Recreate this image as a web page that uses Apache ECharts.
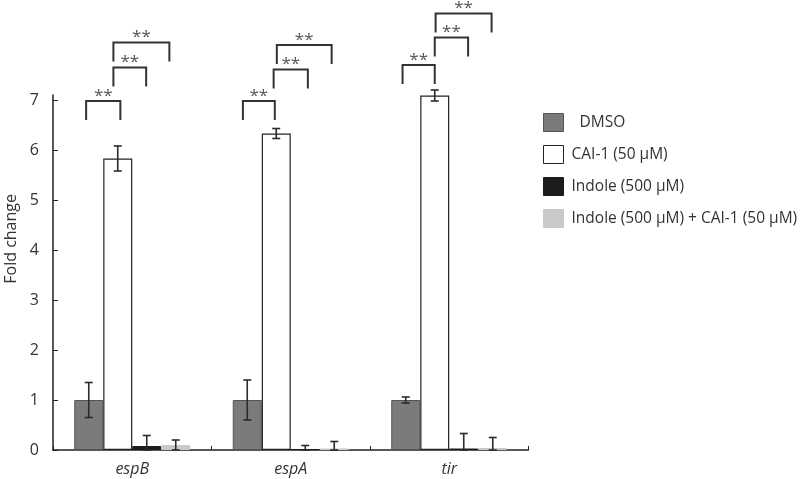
<!DOCTYPE html>
<html>
<head>
<meta charset="utf-8">
<script src="https://cdn.jsdelivr.net/npm/echarts@6/dist/echarts.min.js"></script>
<style>html,body{margin:0;padding:0;background:#fff;}#c{width:800px;height:479px;}</style>
</head>
<body>
<div id="c"></div>
<script>
const categories = ['espB', 'espA', 'tir'];
const seriesNames = ['DMSO', 'CAI-1 (50 µM)', 'Indole (500 µM)', 'Indole (500 µM) + CAI-1 (50 µM)'];
const dmso = [1.0, 1.0, 1.0];
const dmsoErr = [0.35, 0.4, 0.06];
const cai = [5.83, 6.33, 7.09];
const caiErr = [0.25, 0.1, 0.11];
const indole = [0.08, 0.02, 0.03];
const indoleErr = [0.21, 0.07, 0.3];
const indoleCai = [0.1, 0.03, 0.04];
const indoleCaiErr = [0.1, 0.14, 0.21];
const yTicks = [0, 1, 2, 3, 4, 5, 6, 7];
// significance brackets: [category, fromBar, toBar, topValue, label]
const brackets = [
  [0, -0.09, 1.09, 6.98, '**'],
  [0, 0.85, 1.98, 7.65, '**'],
  [0, 0.85, 2.78, 8.15, '**'],
  [1, -0.15, 0.95, 6.98, '**'],
  [1, 0.91, 2.09, 7.61, '**'],
  [1, 1.02, 2.91, 8.1, '**'],
  [2, -0.11, 1.0, 7.7, '**'],
  [2, 1.0, 2.15, 8.25, '**'],
  [2, 1.03, 2.96, 8.73, '**']
];

const values = [dmso, cai, indole, indoleCai];
const errs = [dmsoErr, caiErr, indoleErr, indoleCaiErr];
const colors = ['#7b7b7b', '#ffffff', '#1c1c1c', '#c9c9c9'];
const borders = ['#555555', '#222222', '#1c1c1c', '#c9c9c9'];
const BAR_W = 29;

const errData = [];
values.forEach((arr, s) => arr.forEach((v, c) => errData.push([c, s, v, errs[s][c]])));

const chart = echarts.init(document.getElementById('c'));
const font = '"Open Sans", "Noto Sans", sans-serif';

const barSeries = seriesNames.map((n, s) => ({
  name: n,
  type: 'bar',
  data: values[s],
  barWidth: BAR_W,
  barGap: '0%',
  itemStyle: { color: colors[s], borderColor: borders[s], borderWidth: s === 1 ? 1.2 : 1 },
  emphasis: { disabled: true },
  z: 2
}));

chart.setOption({
  animation: false,
  textStyle: { fontFamily: font },
  grid: { left: 53, top: 95, width: 475.5, height: 355, containLabel: false },
  legend: {
    data: seriesNames,
    orient: 'vertical',
    left: 543,
    top: 113,
    padding: 0,
    itemWidth: 20,
    itemHeight: 18,
    itemGap: 13,
    icon: 'rect',
    selectedMode: false,
    formatter: n => n === 'DMSO' ? '  DMSO' : n,
    textStyle: { fontFamily: font, fontSize: 15.5, color: '#333', padding: [0, 0, 0, 3] },
    itemStyle: { borderWidth: 1 }
  },
  xAxis: {
    type: 'category',
    data: categories,
    axisLine: { lineStyle: { color: '#222', width: 1.5 } },
    axisTick: { show: true, inside: true, length: 4, lineStyle: { color: '#222' } },
    axisLabel: { fontSize: 16, fontStyle: 'italic', color: '#333', margin: 11, fontFamily: font }
  },
  yAxis: {
    type: 'value',
    min: 0,
    max: 7.1,
    interval: 1,
    splitLine: { show: false },
    axisLine: { show: true, lineStyle: { color: '#222', width: 1.5 } },
    axisTick: { show: true, inside: true, length: 5, customValues: yTicks, lineStyle: { color: '#222' } },
    axisLabel: { fontSize: 16, color: '#333', margin: 14, customValues: yTicks, fontFamily: font }
  },
  graphic: [{
    type: 'text',
    left: 3,
    top: 194,
    rotation: Math.PI / 2,
    style: { text: 'Fold change', fontSize: 16, fill: '#333', fontFamily: font }
  }],
  series: barSeries.concat([
    {
      type: 'custom',
      name: 'err',
      data: errData,
      z: 5,
      clip: false,
      renderItem: (params, api) => {
        const c = api.value(0), s = api.value(1), v = api.value(2), e = api.value(3);
        const cx = api.coord([c, 0])[0] + (s - 1.5) * BAR_W;
        const top = api.coord([c, v + e])[1];
        const bot = api.coord([c, Math.max(0, v - e)])[1];
        const hw = 4;
        const st = { stroke: '#2a2a2a', lineWidth: 1.6 };
        return {
          type: 'group',
          children: [
            { type: 'line', shape: { x1: cx, y1: top, x2: cx, y2: bot }, style: st },
            { type: 'line', shape: { x1: cx - hw, y1: top, x2: cx + hw, y2: top }, style: st },
            { type: 'line', shape: { x1: cx - hw, y1: bot, x2: cx + hw, y2: bot }, style: st }
          ]
        };
      }
    },
    {
      type: 'custom',
      name: 'sig',
      data: brackets,
      z: 5,
      clip: false,
      renderItem: (params, api) => {
        const c = api.value(0), a = api.value(1), b = api.value(2), t = api.value(3);
        const center = api.coord([c, 0])[0];
        const x1 = center + (a - 1.5) * BAR_W;
        const x2 = center + (b - 1.5) * BAR_W;
        const yt = api.coord([c, t])[1];
        const yb = api.coord([c, t - 0.38])[1];
        const st = { stroke: '#333', lineWidth: 2, fill: null };
        return {
          type: 'group',
          children: [
            { type: 'polyline', shape: { points: [[x1, yb], [x1, yt], [x2, yt], [x2, yb]] }, style: st },
            { type: 'text', style: { text: brackets[params.dataIndex][4], x: (x1 + x2) / 2, y: yt - 5, align: 'center', verticalAlign: 'middle', fontSize: 17, fill: '#555', fontFamily: font } }
          ]
        };
      }
    }
  ])
});
</script>
</body>
</html>
